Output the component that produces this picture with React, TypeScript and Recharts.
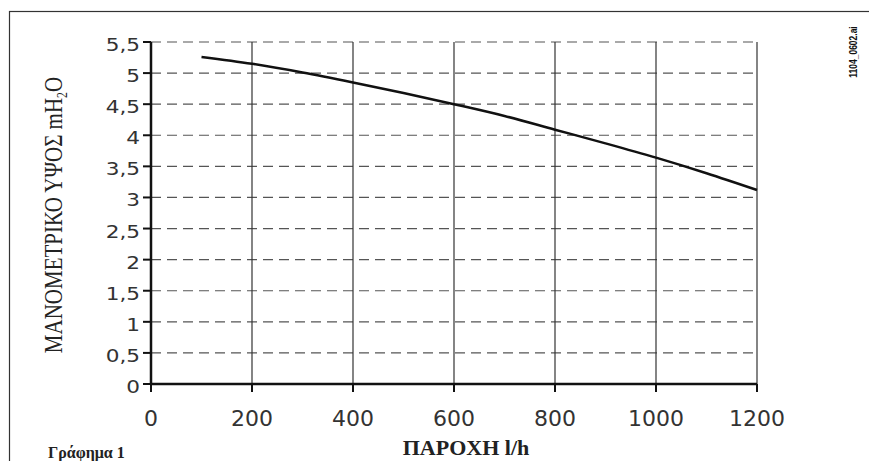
import React from "react";
import {
  LineChart,
  Line,
  XAxis,
  YAxis,
  CartesianGrid,
  Label,
} from "recharts";

const flowValues = [100, 200, 300, 400, 500, 600, 700, 800, 900, 1000, 1100, 1200];
const headValues = [5.26, 5.15, 5.01, 4.85, 4.68, 4.5, 4.31, 4.09, 3.87, 3.64, 3.39, 3.12];
const xTicks = [0, 200, 400, 600, 800, 1000, 1200];
const yTicks = [0, 0.5, 1, 1.5, 2, 2.5, 3, 3.5, 4, 4.5, 5, 5.5];

const xTitle = "ΠΑΡΟΧΗ l/h";
const yTitleMain = "ΜΑΝΟΜΕΤΡΙΚΟ ΥΨΟΣ mH";
const yTitleSub = "2";
const yTitleEnd = "O";
const captionText = "Γράφημα 1";
const fileText = "1104_0602.ai";

const data = flowValues.map((f, i) => ({ flow: f, head: headValues[i] }));

const fmt = (v: number) => String(v).replace(".", ",");

const YTick = (props: any) => {
  const { x, y, payload } = props;
  return (
    <text
      transform={`translate(${x - 1},${y + 9}) scale(1.2,1)`}
      textAnchor="end"
      fontFamily="DejaVu Sans"
      fontSize={18}
      fill="#333"
    >
      {fmt(payload.value)}
    </text>
  );
};

const XTick = (props: any) => {
  const { x, payload } = props;
  return (
    <text
      x={x}
      y={426}
      textAnchor="middle"
      fontFamily="DejaVu Sans"
      fontSize={22}
      fill="#333"
    >
      {fmt(payload.value)}
    </text>
  );
};

export default function App() {
  return (
    <div style={{ position: "absolute", left: 0, top: 0, width: 869, height: 461, background: "#fff", overflow: "hidden" }}>
      <svg width={869} height={461} style={{ position: "absolute", left: 0, top: 0 }}>
        <rect x={9.5} y={11.5} width={900} height={500} fill="none" stroke="#333" strokeWidth={1.2} />
        <text x={48} y={458} fontFamily="Liberation Serif" fontWeight="bold" fontSize={16} fill="#222">
          {captionText}
        </text>
        <text
          transform="translate(857,52) rotate(-90) scale(0.85,1)"
          textAnchor="middle"
          fontFamily="Liberation Sans"
          fontWeight="bold"
          fontSize={10}
          fill="#111"
        >
          {fileText}
        </text>
      </svg>
      <div style={{ position: "absolute", left: 0, top: 0 }}>
        <LineChart width={869} height={461} data={data} margin={{ top: 42, right: 112, bottom: 0, left: 0 }}>
          <CartesianGrid horizontal={true} vertical={false} stroke="#555" strokeDasharray="10 6" strokeWidth={1.2} />
          <CartesianGrid horizontal={false} vertical={true} stroke="#333" strokeWidth={1.2} />
          <XAxis
            dataKey="flow"
            type="number"
            domain={[0, 1200]}
            ticks={xTicks}
            height={77}
            axisLine={{ stroke: "#111", strokeWidth: 2.5 }}
            tickLine={{ stroke: "#111", strokeWidth: 2 }}
            tickSize={8}
            tick={<XTick />}
            interval={0}
          >
            <Label
              content={() => (
                <text
                  x={466}
                  y={455}
                  textAnchor="middle"
                  fontFamily="Liberation Serif"
                  fontWeight="bold"
                  fontSize={22}
                  fill="#222"
                >
                  {xTitle}
                </text>
              )}
            />
          </XAxis>
          <YAxis
            type="number"
            domain={[0, 5.5]}
            ticks={yTicks}
            width={151}
            axisLine={{ stroke: "#111", strokeWidth: 2.5 }}
            tickLine={{ stroke: "#111", strokeWidth: 2 }}
            tickSize={8}
            tick={<YTick />}
            interval={0}
          >
            <Label
              content={() => (
                <text
                  transform="translate(62,215) rotate(-90) scale(0.84,1)"
                  textAnchor="middle"
                  fontFamily="Liberation Serif"
                  fontSize={25}
                  fill="#222"
                >
                  {yTitleMain}
                  <tspan fontSize={14} dy={5}>{yTitleSub}</tspan>
                  <tspan dy={-5}>{yTitleEnd}</tspan>
                </text>
              )}
            />
          </YAxis>
          <Line
            type="monotone"
            dataKey="head"
            stroke="#111"
            strokeWidth={2.5}
            dot={false}
            isAnimationActive={false}
          />
        </LineChart>
      </div>
    </div>
  );
}
